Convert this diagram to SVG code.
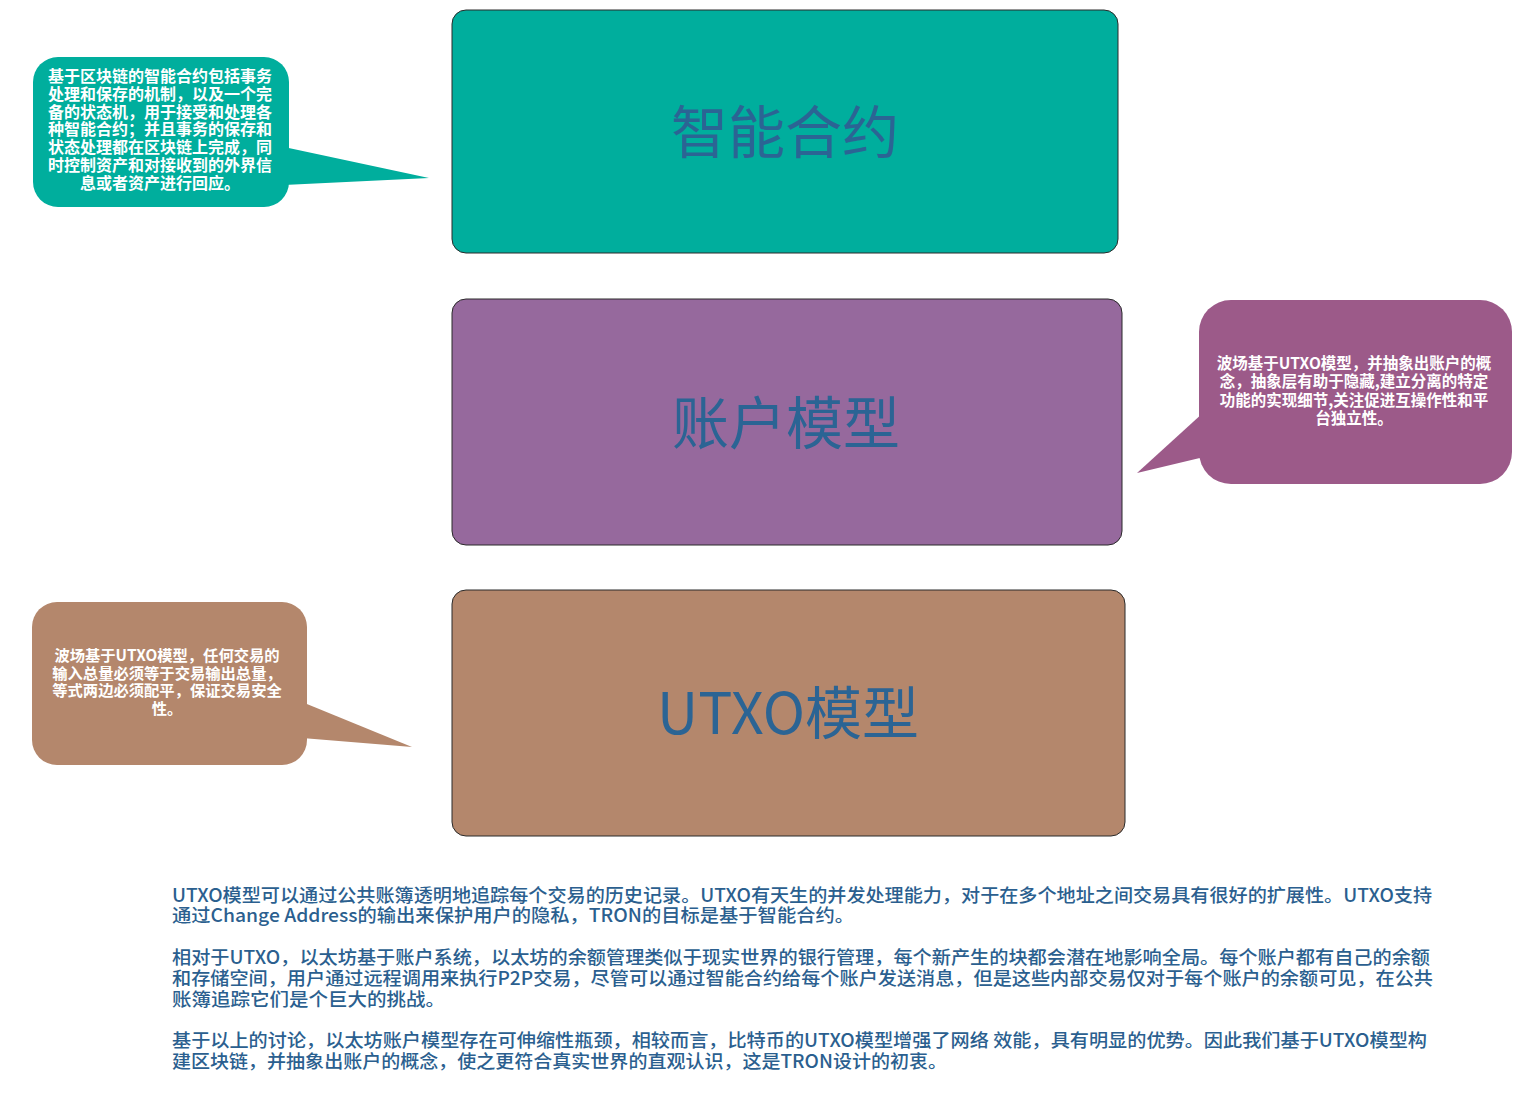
<svg xmlns="http://www.w3.org/2000/svg" width="1528" height="1108" viewBox="0 0 1528 1108">
<style>
text { font-family: "Noto Sans CJK SC", "Noto Sans", sans-serif; }
.box { stroke: #2a2a2a; stroke-width: 1; }
.title { font-size: 57px; fill: #2B6494; text-anchor: middle; }
.note { font-size: 15.5px; fill: #ffffff; font-weight: bold; text-anchor: middle; }
.n1 { font-size: 16px; }
.n3 { font-size: 15.3px; }
.para { font-size: 18.5px; fill: #2B5F8F; font-weight: 500; }
</style>
<rect width="1528" height="1108" fill="#ffffff"/>
<g id="connectors"/>
<g id="node-contract">
  <rect class="box" x="452" y="10" width="666" height="243" rx="14" fill="#00AE9D"/>
  <text class="title" x="785" y="153">智能合约</text>
</g>
<g id="node-account">
  <rect class="box" x="452" y="299" width="670" height="246" rx="14" fill="#96699D"/>
  <text class="title" x="786" y="444">账户模型</text>
</g>
<g id="node-utxo">
  <rect class="box" x="452" y="590" width="673" height="246" rx="14" fill="#B4876C"/>
  <text class="title" x="788" y="734">UTXO模型</text>
</g>
<g id="callout-contract">
  <rect x="33" y="57" width="256" height="150" rx="25" fill="#00AE9D"/>
  <polygon points="284,147 429,178 284,185" fill="#00AE9D"/>
  <text class="note n1" x="160" y="82">基于区块链的智能合约包括事务</text>
  <text class="note n1" x="160" y="100">处理和保存的机制，以及一个完</text>
  <text class="note n1" x="160" y="118">备的状态机，用于接受和处理各</text>
  <text class="note n1" x="160" y="135">种智能合约；并且事务的保存和</text>
  <text class="note n1" x="160" y="153">状态处理都在区块链上完成，同</text>
  <text class="note n1" x="160" y="171">时控制资产和对接收到的外界信</text>
  <text class="note n1" x="160" y="189">息或者资产进行回应。</text>
</g>
<g id="callout-account">
  <rect x="1199" y="300" width="313" height="184" rx="32" fill="#9C5A89"/>
  <polygon points="1204,412 1137,473 1204,457" fill="#9C5A89"/>
  <text class="note" x="1354" y="369">波场基于UTXO模型，并抽象出账户的概</text>
  <text class="note" x="1354" y="387">念，抽象层有助于隐藏,建立分离的特定</text>
  <text class="note" x="1354" y="406">功能的实现细节,关注促进互操作性和平</text>
  <text class="note" x="1354" y="424">台独立性。</text>
</g>
<g id="callout-utxo">
  <rect x="32" y="602" width="275" height="163" rx="25" fill="#B4876C"/>
  <polygon points="302,702 412,747 302,738" fill="#B4876C"/>
  <text class="note n3" x="167" y="661">波场基于UTXO模型，任何交易的</text>
  <text class="note n3" x="167" y="679">输入总量必须等于交易输出总量，</text>
  <text class="note n3" x="167" y="696">等式两边必须配平，保证交易安全</text>
  <text class="note n3" x="167" y="714">性。</text>
</g>
<g id="description">
  <text class="para" x="172" y="902" textLength="1260" lengthAdjust="spacingAndGlyphs">UTXO模型可以通过公共账簿透明地追踪每个交易的历史记录。UTXO有天生的并发处理能力，对于在多个地址之间交易具有很好的扩展性。UTXO支持</text>
  <text class="para" x="172" y="922" textLength="682" lengthAdjust="spacingAndGlyphs">通过Change Address的输出来保护用户的隐私，TRON的目标是基于智能合约。</text>
  <text class="para" x="172" y="964" textLength="1258" lengthAdjust="spacingAndGlyphs">相对于UTXO，以太坊基于账户系统，以太坊的余额管理类似于现实世界的银行管理，每个新产生的块都会潜在地影响全局。每个账户都有自己的余额</text>
  <text class="para" x="172" y="985" textLength="1261" lengthAdjust="spacingAndGlyphs">和存储空间，用户通过远程调用来执行P2P交易，尽管可以通过智能合约给每个账户发送消息，但是这些内部交易仅对于每个账户的余额可见，在公共</text>
  <text class="para" x="172" y="1006" textLength="273" lengthAdjust="spacingAndGlyphs">账簿追踪它们是个巨大的挑战。</text>
  <text class="para" x="172" y="1047" textLength="1255" lengthAdjust="spacingAndGlyphs">基于以上的讨论，以太坊账户模型存在可伸缩性瓶颈，相较而言，比特币的UTXO模型增强了网络 效能，具有明显的优势。因此我们基于UTXO模型构</text>
  <text class="para" x="172" y="1068" textLength="775" lengthAdjust="spacingAndGlyphs">建区块链，并抽象出账户的概念，使之更符合真实世界的直观认识，这是TRON设计的初衷。</text>
</g>
</svg>
